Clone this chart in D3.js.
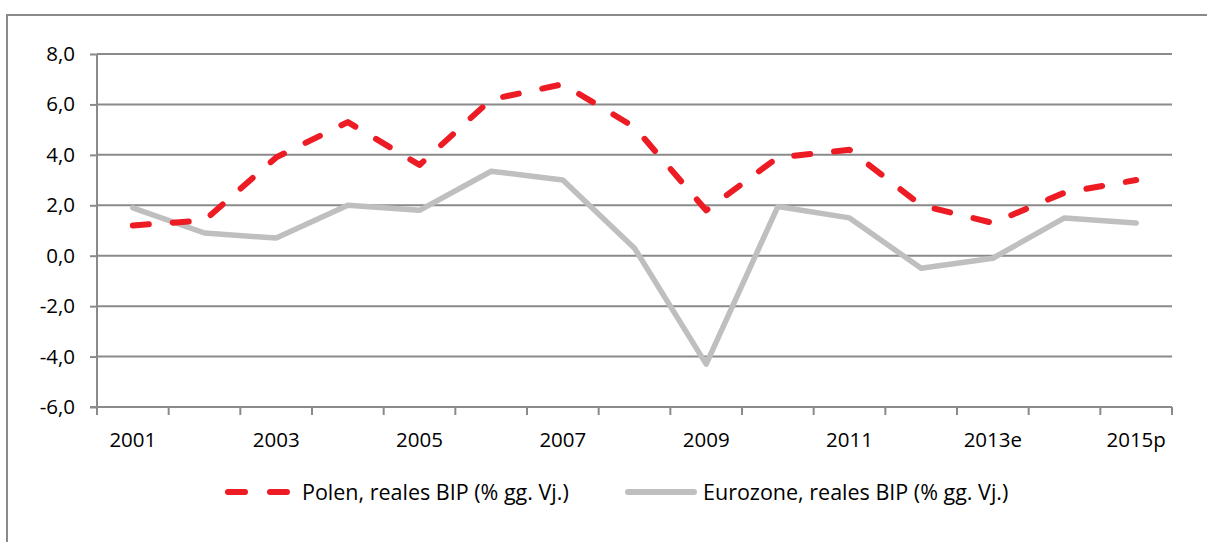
<!DOCTYPE html>
<html>
<head>
<meta charset="utf-8">
<script src="https://cdn.jsdelivr.net/npm/d3@7/dist/d3.min.js"></script>
<style>
  html, body { margin: 0; padding: 0; background: #fff; }
  svg { display: block; font-family: "Open Sans", sans-serif; }
</style>
</head>
<body>
<svg id="chart" width="1207" height="542"></svg>
<script>
const categories = ["2001","2002","2003","2004","2005","2006","2007","2008","2009","2010","2011","2012","2013e","2014p","2015p"];
const polen    = [1.2, 1.4, 3.9, 5.3, 3.6, 6.2, 6.8, 5.1, 1.8, 3.9, 4.2, 2.0, 1.3, 2.5, 3.0];
const eurozone = [1.9, 0.9, 0.7, 2.0, 1.8, 3.35, 3.0, 0.3, -4.3, 1.95, 1.5, -0.5, -0.1, 1.5, 1.3];
const yTicks = [-6, -4, -2, 0, 2, 4, 6, 8];
const seriesNames = ["Polen, reales BIP (% gg. Vj.)", "Eurozone, reales BIP (% gg. Vj.)"];

const svg = d3.select("#chart");
const W = 1207, H = 542;
const plot = { left: 97, right: 1172, top: 54, bottom: 407 };
const gridColor = "#8a8a8a";
const red = "#ED1C24", gray = "#BFBFBF";

const locale = d3.formatLocale({ decimal: ",", thousands: ".", grouping: [3], currency: ["", "€"], minus: "-" });
const fmt = locale.format(".1f");

// frame
svg.append("path")
  .attr("d", `M7,${H} L7,15 L${W},15`)
  .attr("fill", "none").attr("stroke", gridColor).attr("stroke-width", 2);

const x = d3.scaleBand().domain(categories).range([plot.left, plot.right]).padding(0);
const y = d3.scaleLinear().domain([-6, 8]).range([plot.bottom, plot.top]);
const cx = d => x(d) + x.bandwidth() / 2;

// gridlines
svg.append("g").selectAll("line").data(yTicks.filter(t => t !== -6)).join("line")
  .attr("x1", plot.left).attr("x2", plot.right)
  .attr("y1", d => y(d)).attr("y2", d => y(d))
  .attr("stroke", gridColor).attr("stroke-width", 2);

// y axis
const yAxis = svg.append("g").attr("transform", `translate(${plot.left},0)`)
  .call(d3.axisLeft(y).tickValues(yTicks).tickSize(7).tickPadding(15).tickFormat(fmt));
yAxis.select(".domain").attr("stroke", gridColor).attr("stroke-width", 2)
  .attr("d", `M0,${plot.top}V${plot.bottom}`);
yAxis.selectAll(".tick line").attr("stroke", gridColor).attr("stroke-width", 2);
yAxis.selectAll(".tick text").attr("font-size", 20.5).attr("fill", "#000")
  .attr("font-family", "'Open Sans', sans-serif");

// x axis
const xAxis = svg.append("g").attr("transform", `translate(0,${plot.bottom})`)
  .call(d3.axisBottom(x).tickSize(0).tickPadding(25)
    .tickFormat((d, i) => i % 2 === 0 ? d : ""));
xAxis.select(".domain").attr("stroke", gridColor).attr("stroke-width", 2)
  .attr("d", `M${plot.left - 7},0H${plot.right}`);
xAxis.selectAll(".tick text").attr("font-size", 20.5).attr("fill", "#000")
  .attr("font-family", "'Open Sans', sans-serif");
const bounds = categories.map(c => x(c)).concat([x.range()[1]]);
xAxis.append("g").selectAll("line").data(bounds).join("line")
  .attr("x1", d => d).attr("x2", d => d).attr("y1", 0).attr("y2", 8)
  .attr("stroke", gridColor).attr("stroke-width", 2);

// lines
const line = d3.line().x((d, i) => cx(categories[i])).y(d => y(d));
svg.append("path").datum(eurozone).attr("d", line)
  .attr("fill", "none").attr("stroke", gray).attr("stroke-width", 5.5)
  .attr("stroke-linejoin", "round").attr("stroke-linecap", "round");
svg.append("path").datum(polen).attr("d", line)
  .attr("fill", "none").attr("stroke", red).attr("stroke-width", 6)
  .attr("stroke-dasharray", "16 24").attr("stroke-linejoin", "round").attr("stroke-linecap", "round");

// legend
const ly = 492;
const leg = svg.append("g");
leg.append("line").attr("x1", 228).attr("x2", 287).attr("y1", ly).attr("y2", ly)
  .attr("stroke", red).attr("stroke-width", 6).attr("stroke-linecap", "round")
  .attr("stroke-dasharray", "17 25");
leg.append("text").attr("x", 302).attr("y", ly).attr("dy", "0.35em")
  .attr("font-size", 21.5).attr("fill", "#000").text(seriesNames[0]);
leg.append("line").attr("x1", 628).attr("x2", 694).attr("y1", ly).attr("y2", ly)
  .attr("stroke", gray).attr("stroke-width", 6).attr("stroke-linecap", "round");
leg.append("text").attr("x", 703).attr("y", ly).attr("dy", "0.35em")
  .attr("font-size", 21.5).attr("fill", "#000").text(seriesNames[1]);
</script>
</body>
</html>
